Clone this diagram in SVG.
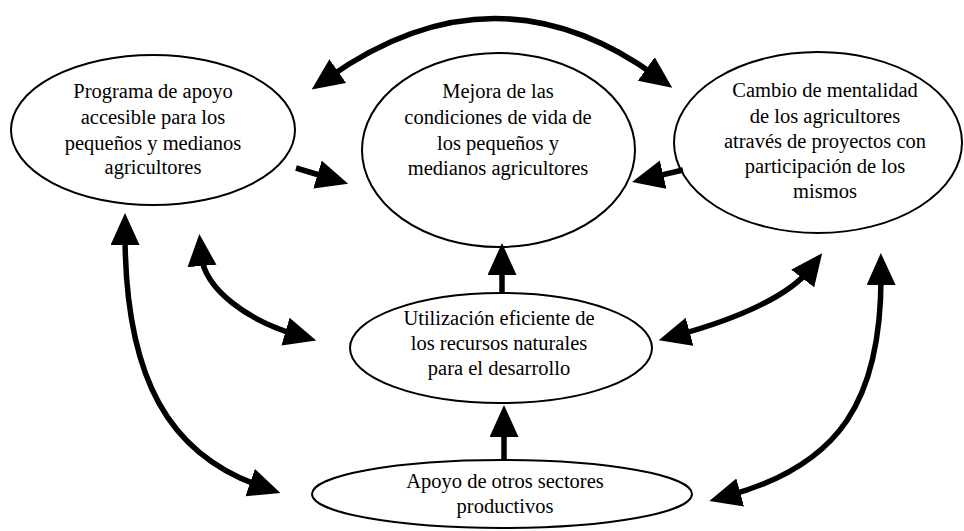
<svg xmlns="http://www.w3.org/2000/svg" width="964" height="531" viewBox="0 0 964 531">
<style>
.node ellipse{fill:#fff;stroke:#000;stroke-width:2}
.node text{font-family:"Liberation Serif","Times New Roman",serif;font-size:20.5px;fill:#000;text-anchor:middle}
.conn path{fill:none;stroke:#000;stroke-width:5.5}
</style>
<defs>
<marker id="ah" markerUnits="userSpaceOnUse" markerWidth="34" markerHeight="30" refX="12" refY="14.5" orient="auto-start-reverse" viewBox="0 0 34 30">
<path d="M0,0 L32,14.5 L0,29 z" fill="#000"/>
</marker>
</defs>
<rect width="964" height="531" fill="#fff"/>
<g id="n1" class="node">
<ellipse cx="153" cy="130" rx="142" ry="75"/>
<text x="153" y="98">Programa de apoyo</text>
<text x="153" y="124">accesible para los</text>
<text x="153" y="150">pequeños y medianos</text>
<text x="153" y="174">agricultores</text>
</g>
<g id="n2" class="node">
<ellipse cx="498.5" cy="150" rx="136.5" ry="97"/>
<text x="498" y="98">Mejora de las</text>
<text x="498" y="124">condiciones de vida de</text>
<text x="498" y="150">los pequeños y</text>
<text x="498" y="175">medianos agricultores</text>
</g>
<g id="n3" class="node">
<ellipse cx="818" cy="142.5" rx="144" ry="90.5"/>
<text x="825" y="97">Cambio de mentalidad</text>
<text x="825" y="123">de los agricultores</text>
<text x="825" y="148">através de proyectos con</text>
<text x="825" y="173">participación de los</text>
<text x="825" y="198">mismos</text>
</g>
<g id="n4" class="node">
<ellipse cx="501" cy="348" rx="151" ry="55"/>
<text x="499" y="325">Utilización eficiente de</text>
<text x="499" y="350">los recursos naturales</text>
<text x="499" y="375">para el desarrollo</text>
</g>
<g id="n5" class="node">
<ellipse cx="502" cy="494" rx="190" ry="34"/>
<text x="505" y="488">Apoyo de otros sectores</text>
<text x="505" y="513">productivos</text>
</g>
<g id="connectors" class="conn">
<path d="M328,78 Q495,-40 656,76" marker-start="url(#ah)" marker-end="url(#ah)"/>
<path d="M296,168 L329,178" marker-end="url(#ah)"/>
<path d="M683,170 L651.5,177.4" marker-end="url(#ah)"/>
<path d="M502,293 L502,263" marker-end="url(#ah)"/>
<path d="M504,460 L504,425" marker-end="url(#ah)"/>
<path d="M201,254 C204,290 249,321 297,335" marker-start="url(#ah)" marker-end="url(#ah)"/>
<path d="M125,233 C125,380 170,455 261.5,486.5" marker-start="url(#ah)" marker-end="url(#ah)"/>
<path d="M810,269 C790,295 740,318 678,335" marker-start="url(#ah)" marker-end="url(#ah)"/>
<path d="M881,273 C882,400 840,465 728.6,495.6" marker-start="url(#ah)" marker-end="url(#ah)"/>
</g>
</svg>
